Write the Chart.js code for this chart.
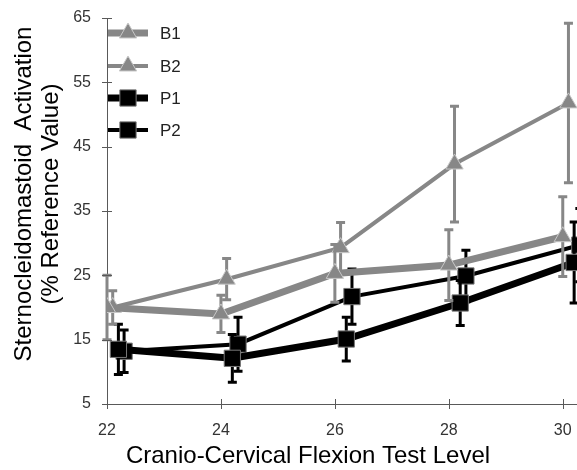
<!DOCTYPE html>
<html>
<head>
<meta charset="utf-8">
<script src="https://cdn.jsdelivr.net/npm/chart.js@4/dist/chart.umd.min.js"></script>
<style>
  html, body { margin: 0; padding: 0; background: #fff; }
  #wrap { width: 577px; height: 470px; }
</style>
</head>
<body>
<div id="wrap"><canvas id="myChart" width="577" height="470"></canvas></div>
<script>
// Niveis do teste e valores
var levels = [22, 24, 26, 28, 30];
var xTicks = [22, 24, 26, 28, 30];
var yTicks = [5, 15, 25, 35, 45, 55, 65];

var b1 = [20.0, 19.0, 25.3, 26.6, 31.0];
var b1Err = [5.0, 2.9, 4.5, 5.5, 6.2];
var b2 = [20.0, 24.4, 29.3, 42.3, 51.8];
var b2Err = [2.6, 3.2, 3.9, 9.0, 12.4];
var p1 = [13.5, 12.1, 15.1, 20.7, 27.0];
var p1Err = [3.9, 3.7, 3.4, 3.5, 6.3];
var p2 = [13.2, 14.3, 21.7, 24.9, 29.7];
var p2Err = [3.3, 4.2, 4.3, 4.0, 5.7];

var gray = '#878787';
var fontFamily = '"Liberation Sans", Arial, sans-serif';

// pontos deslocados um pouco no eixo x, como no original
function pts(vals, errs, shift) {
    return vals.map(function (v, i) {
        return { x: levels[i] + shift, y: v, err: errs[i] };
    });
}

// Barras de erro (desenhadas antes de cada serie)
var errorBars = {
    id: 'errorBars',
    beforeDatasetDraw: function (chart, args) {
        var ds = chart.data.datasets[args.index];
        var xs = chart.scales.x, ys = chart.scales.y;
        var ctx = chart.ctx;
        ctx.save();
        ctx.strokeStyle = ds.errColor;
        ctx.lineWidth = 3;
        ds.data.forEach(function (p) {
            var px = xs.getPixelForValue(p.x);
            var top = ys.getPixelForValue(p.y + p.err);
            var bot = ys.getPixelForValue(p.y - p.err);
            ctx.beginPath();
            ctx.moveTo(px, top); ctx.lineTo(px, bot);
            ctx.moveTo(px - 4.5, top); ctx.lineTo(px + 4.5, top);
            ctx.moveTo(px - 4.5, bot); ctx.lineTo(px + 4.5, bot);
            ctx.stroke();
        });
        ctx.restore();
    }
};

// Eixos com marcas cruzadas, titulos e legenda
var decor = {
    id: 'decor',
    afterDraw: function (chart) {
        var ctx = chart.ctx;
        var a = chart.chartArea;
        var xs = chart.scales.x, ys = chart.scales.y;
        ctx.save();
        ctx.strokeStyle = '#595959';
        ctx.lineWidth = 1;
        ctx.beginPath();
        yTicks.forEach(function (t) {
            var py = Math.round(ys.getPixelForValue(t)) + 0.5;
            ctx.moveTo(a.left - 5, py); ctx.lineTo(a.left + 5, py);
        });
        xTicks.forEach(function (t) {
            var px = Math.round(xs.getPixelForValue(t)) + 0.5;
            ctx.moveTo(px, a.bottom - 5); ctx.lineTo(px, a.bottom + 5);
        });
        ctx.stroke();

        // titulos dos eixos
        ctx.fillStyle = '#000';
        ctx.font = '24px ' + fontFamily;
        ctx.textAlign = 'center';
        ctx.textBaseline = 'middle';
        ctx.fillText('Cranio-Cervical Flexion Test Level', 308, 456);
        ctx.translate(0, 194);
        ctx.rotate(-Math.PI / 2);
        ctx.fillText('Sternocleidomastoid  Activation', 0, 24);
        ctx.fillText('(% Reference Value)', 0, 51);
        ctx.restore();

        // legenda
        ctx.save();
        var rows = [33, 66, 98, 130];
        chart.data.datasets.forEach(function (ds, i) {
            var y = rows[i];
            ctx.strokeStyle = ds.borderColor;
            ctx.lineWidth = ds.borderWidth;
            ctx.beginPath();
            ctx.moveTo(108, y); ctx.lineTo(148, y);
            ctx.stroke();
            ctx.fillStyle = ds.pointBackgroundColor;
            ctx.strokeStyle = ds.pointBorderColor;
            ctx.lineWidth = ds.pointBorderWidth;
            Chart.helpers.drawPoint(ctx, {
                pointStyle: ds.pointStyle,
                radius: ds.pointRadius,
                borderWidth: ds.pointBorderWidth,
                rotation: 0
            }, 128, y);
            ctx.fillStyle = '#222';
            ctx.font = '17px ' + fontFamily;
            ctx.textAlign = 'left';
            ctx.textBaseline = 'middle';
            ctx.fillText(ds.label, 160, y + 1);
        });
        ctx.restore();
    }
};

var ctx = document.getElementById('myChart').getContext('2d');
var myChart = new Chart(ctx, {
    type: 'line',
    data: {
        datasets: [{
            label: 'B1',
            data: pts(b1, b1Err, 0),
            borderColor: gray, borderWidth: 7, errColor: gray,
            pointStyle: 'triangle', pointRadius: 10,
            pointBackgroundColor: gray, pointBorderColor: '#c8c8c8', pointBorderWidth: 1
        }, {
            label: 'B2',
            data: pts(b2, b2Err, 0.1),
            borderColor: gray, borderWidth: 4, errColor: gray,
            pointStyle: 'triangle', pointRadius: 10,
            pointBackgroundColor: gray, pointBorderColor: '#c8c8c8', pointBorderWidth: 1
        }, {
            label: 'P1',
            data: pts(p1, p1Err, 0.2),
            borderColor: '#000', borderWidth: 7, errColor: '#000',
            pointStyle: 'rect', pointRadius: 11.5,
            pointBackgroundColor: '#000', pointBorderColor: '#777', pointBorderWidth: 1
        }, {
            label: 'P2',
            data: pts(p2, p2Err, 0.3),
            borderColor: '#000', borderWidth: 4, errColor: '#000',
            pointStyle: 'rect', pointRadius: 11.5,
            pointBackgroundColor: '#000', pointBorderColor: '#777', pointBorderWidth: 1
        }]
    },
    options: {
        responsive: false,
        animation: false,
        layout: { autoPadding: false, padding: { top: 18, right: 0, left: 0, bottom: 0 } },
        plugins: {
            legend: { display: false },
            tooltip: { enabled: false }
        },
        scales: {
            x: {
                type: 'linear',
                min: 22, max: 30.25,
                afterBuildTicks: function (s) { s.ticks = xTicks.map(function (v) { return { value: v }; }); },
                afterFit: function (s) { s.height = 66; s.paddingRight = 0; s.paddingLeft = 0; },
                grid: { display: false },
                border: { display: true, color: '#595959', width: 1 },
                ticks: { color: '#333', font: { size: 16, family: fontFamily }, padding: 9, maxRotation: 0 }
            },
            y: {
                min: 5, max: 65,
                afterBuildTicks: function (s) { s.ticks = yTicks.map(function (v) { return { value: v }; }); },
                afterFit: function (s) { s.width = 107; s.paddingTop = 0; s.paddingBottom = 0; },
                grid: { display: false },
                border: { display: true, color: '#595959', width: 1 },
                ticks: { color: '#333', font: { size: 16, family: fontFamily }, padding: 8 }
            }
        }
    },
    plugins: [errorBars, decor]
});
</script>
</body>
</html>
